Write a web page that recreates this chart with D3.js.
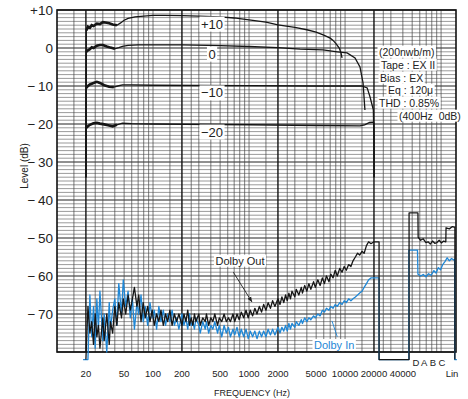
<!DOCTYPE html>
<html>
<head>
<meta charset="utf-8">
<script src="https://cdn.jsdelivr.net/npm/d3@7"></script>
<style>
  body { margin: 0; background: #fff; }
  svg { display: block; font-family: "Liberation Sans", Arial, sans-serif; }
</style>
</head>
<body>
<svg id="chart" width="468" height="399"></svg>
<script>
// level ticks (dB) and frequency tick labels
const levelTicks = [10, 0, -10, -20, -30, -40, -50, -60, -70];
const freqTicks = [20, 50, 100, 200, 500, 1000, 2000, 5000, 10000, 20000, 40000];
const weightNames = ['D', 'A', 'B', 'C', 'Lin'];
const weightPos = [2.95, 4.8, 6.8, 8.8, 11.1];

// frequency response at four recording levels: [Hz, dB]
const curvePlus10 = [[20,-34],[20.2,4.6],[21,5.6],[22,5.3],[23,6.0],[24,5.8],[26,6.4],[28,6.3],[30,6.8],[32,6.7],[35,6.5],[38,6.2],[42,6.0],[46,6.6],[50,7.3],[55,7.8],[65,8.2],[80,8.4],[100,8.6],[130,8.6],[200,8.5],[300,8.4],[500,8.2],[700,7.9],[1000,7.4],[1500,6.8],[2000,6.1],[3000,5.4],[4000,4.8],[5000,4.2],[6000,3.4],[7000,2.6],[7500,2.0],[8000,1.2],[8700,0],[9100,-1.4],[9300,-2.6]];
const curveZero = [[20,-34],[20.2,-1.0],[21,-0.6],[22,-0.3],[23,0.2],[24,0],[26,0.6],[28,0.8],[30,0.8],[33,0.4],[36,0.1],[40,-0.2],[44,0.1],[48,0.4],[55,0.7],[70,0.8],[100,0.8],[200,0.8],[500,0.6],[1000,0.4],[2000,0.1],[3400,-0.3],[5900,-0.5],[8300,-1.0],[10500,-1.3],[12700,-2.6],[14300,-5.0],[15400,-9.2],[16100,-16.3]];
const curveMinus10 = [[20,-34],[20.2,-10.5],[21,-10.0],[22,-9.6],[24,-9.2],[26,-8.9],[28,-9.2],[31,-9.8],[35,-10.2],[39,-10.3],[43,-10.0],[48,-9.7],[60,-9.7],[100,-9.8],[1000,-9.9],[5000,-10.0],[14900,-10.0],[17000,-10.5],[18200,-12.9],[19700,-16.3],[20000,-24],[20000,-34]];
const curveMinus20 = [[20,-34],[20.2,-21.0],[21,-20.6],[22,-20.2],[24,-19.8],[26,-19.7],[28,-19.9],[31,-20.1],[35,-20.4],[38,-20.6],[42,-20.2],[48,-19.8],[60,-19.9],[100,-20.0],[1000,-20.2],[5000,-20.4],[14300,-20.5],[16000,-20.2],[18000,-19.6],[19700,-19.5],[20000,-19.8],[20100,-34]];
const curveNames = ['+10', '0', '\u221210', '\u221220'];
const curveNameDb = [6.3, -1.6, -11.8, -22.1];

// noise spectra, Dolby out / Dolby in
const noiseFreq = [20,21,22,23,24,25,26,27,28,30,31,33,35,36,38,40,42,44,47,49,52,55,58,61,64,68,71,75,79,83,88,93,98,103,109,115,121,128,135,142,150,158,167,176,186,
  200,210,220,230,240,250,260,270,280,300,310,330,350,360,380,400,420,440,470,490,520,550,580,610,640,680,710,750,790,830,880,930,980,1030,1090,1150,1210,1280,1350,1420,1500,1580,1670,1760,1860,
  2000,2100,2200,2300,2400,2500,2600,2700,2800,3000,3100,3300,3500,3600,3800,4000,4200,4400,4700,4900,5200,5500,5800,6100,6400,6800,7100,7500,7900,8300,8800,9300,9800,10300,10900,11500,12100,12800,13500,14200,15000,15800,16700,17600,18600,
  20000];
const dolbyOut = [-82,-68,-75,-72,-78,-70,-76,-73,-79,-71,-77,-70,-78,-72,-75,-68,-73,-67,-71,-66,-70,-65,-69,-66,-63,-68,-65,-72,-67,-71,-68,-72,-69,-73,-70,-72,-69,-73,-70,-72,-69,-73,-70,-72,-70,
  -73,-70,-72,-69,-73,-71,-73,-70,-72,-70,-73,-71,-72,-70,-73,-71,-72,-70,-73,-71,-72,-70,-72,-71,-72,-70,-72,-70,-71.5,-69.5,-71,-69,-71,-69,-70.5,-68.5,-70,-68,-69.5,-67.5,-69,-67,-68.5,-66.5,-68,
  -66,-67.5,-65.5,-67,-65,-66.5,-64.5,-66,-64,-65.5,-63.5,-65,-63,-64.5,-62.5,-64,-62,-63.5,-61.5,-63,-61,-62.5,-60.5,-62,-60,-61.5,-59.5,-60.5,-58.5,-60,-58,-59,-57.5,-58.5,-57,-57.5,-56,-55,-54,-54.5,-53.5,-54,-52,-51,-51.5,
  -51];
const dolbyIn = [-82,-82,-65,-76,-68,-79,-66,-74,-64,-77,-70,-80,-67,-74,-69,-66,-73,-62,-70,-61,-68,-64,-71,-66,-74,-67,-70,-65,-72,-68,-73,-67,-71,-69,-74,-68,-72,-69,-73,-70,-72,-69,-73,-71,-74,
  -70,-73,-71,-74,-70,-73,-72,-74,-71,-73,-75,-72,-74,-72,-75,-73,-74,-72,-75,-73,-76,-73,-75,-73.5,-76,-74,-75.5,-73.5,-76,-74,-76,-74,-76.5,-74.5,-76,-74.5,-76.5,-74.5,-76,-74.5,-76,-74,-75.5,-74,-75.5,
  -73.5,-75,-73.5,-74.5,-73,-74.5,-72.5,-74,-72.5,-73.5,-72,-73,-71.5,-72.5,-71,-72,-71,-71.5,-70.5,-71,-70,-70.5,-69,-69.5,-68.5,-69,-68,-68.5,-67.5,-68,-67,-67.5,-66.5,-67,-66,-66.5,-66,-65.5,-65,-64.5,-64,-63,-62,-61,-60.5,
  -60.5];
const tailFreq = [22600, 22600, 40000];
const dolbyOutTail = [-51, -82, -82];
const dolbyInTail = [-60.5, -82, -82];

// weighted section (strip units 0..12)
const outStripPos = [0, 1.4, 1.4, 3.4, 3.45, 4.0, 4.6, 5.2, 5.7, 6.2, 6.7, 7.2, 7.7, 8.2, 8.7, 9.2, 9.7, 9.75, 10.5, 11.2, 11.75, 11.75];
const outStripDb = [-82, -82, -43.4, -43.4, -49.8, -50.6, -50.2, -51.2, -51, -51.6, -50.8, -51.4, -51.2, -50.6, -51.3, -50.8, -51, -47.3, -47.6, -47, -47.2, -82];
const inStripPos = [0, 1.35, 1.35, 3.3, 3.4, 4.0, 4.6, 5.2, 5.8, 6.4, 7.0, 7.5, 8.0, 8.5, 9.0, 9.5, 10.0, 10.5, 11.0, 11.5, 11.7, 11.7, 12.2];
const inStripDb = [-82, -82, -53.2, -53.2, -59.5, -60, -59.6, -60.2, -59.4, -59.8, -58.6, -59.2, -57.8, -58.4, -57, -56.2, -55.2, -56, -55.4, -55.8, -55.6, -82, -82];

const infoLines = ['(200nwb/m)', 'Tape : EX II', 'Bias : EX', 'Eq : 120\u03bc', 'THD : 0.85%', '(400Hz  0dB)'];

const black = '#161616', blue = '#1f87d6';
const svg = d3.select('#chart');
const x = d3.scaleLog().domain([10, 143000]).range([57, 456]);
const y = d3.scaleLinear().domain([-80, 10]).range([352, 10]);
const xs = d3.scaleLinear().domain([0, 12]).range([x(40000), 456]);

// grid
const grid = svg.append('g');
grid.selectAll('line.h').data(d3.range(-80, 11)).enter().append('line')
  .attr('x1', 57).attr('x2', 456)
  .attr('y1', d => y(d)).attr('y2', d => y(d))
  .attr('stroke', d => d % 10 === 0 ? '#222' : '#555')
  .attr('stroke-width', d => d % 10 === 0 ? 1.1 : 0.6);
const gridFreq = [];
[10, 100, 1000, 10000, 100000].forEach(dec => [1, 1.5, 2, 2.5, 3, 4, 5, 6, 7, 8, 9].forEach(m => {
  const f = dec * m;
  if (f > 10 && f < 142000) gridFreq.push(f);
}));
const major = [20, 200, 2000, 20000];
grid.selectAll('line.v').data(gridFreq).enter().append('line')
  .attr('x1', d => x(d)).attr('x2', d => x(d))
  .attr('y1', 10).attr('y2', 352)
  .attr('stroke', d => major.includes(d) ? '#111' : '#444')
  .attr('stroke-width', d => major.includes(d) ? 1.4 : 0.7);
svg.append('rect').attr('x', 57).attr('y', 10).attr('width', 399).attr('height', 342)
  .attr('fill', 'none').attr('stroke', '#111').attr('stroke-width', 1.6);

// axes labels
svg.selectAll('text.yl').data(levelTicks).enter().append('text')
  .attr('x', 53).attr('y', d => y(d)).attr('dy', '0.36em')
  .attr('text-anchor', 'end').attr('font-size', 13.5).attr('fill', '#222')
  .text(d => d > 0 ? '+' + d : d < 0 ? '\u2212\u2009' + Math.abs(d) : '0');
svg.selectAll('text.xl').data(freqTicks).enter().append('text')
  .attr('x', d => x(d)).attr('y', 377)
  .attr('text-anchor', 'middle').attr('font-size', 9.5).attr('fill', '#222')
  .text(d => d);
svg.selectAll('text.wl').data(weightNames).enter().append('text')
  .attr('x', (d, i) => xs(weightPos[i])).attr('y', (d, i) => d === 'Lin' ? 377 : 366)
  .attr('text-anchor', 'middle').attr('font-size', 9.5).attr('fill', '#222')
  .text(d => d);
svg.append('text').attr('x', 252).attr('y', 396).attr('text-anchor', 'middle')
  .attr('font-size', 9).attr('fill', '#222').text('FREQUENCY (Hz)');
svg.append('text').attr('transform', 'translate(28,166) rotate(-90)').attr('text-anchor', 'middle')
  .attr('font-size', 10).attr('fill', '#222').text('Level (dB)');

// text with white box behind
function boxedText(g, tx, ty, str, opts) {
  const t = g.append('text').attr('x', tx).attr('y', ty).attr('dy', '0.35em')
    .attr('text-anchor', opts.anchor || 'start').attr('font-size', opts.size)
    .attr('fill', opts.color || '#222').attr('xml:space', 'preserve').text(str);
  const b = t.node().getBBox();
  g.insert('rect', () => t.node()).attr('x', b.x - 1.5).attr('y', b.y).attr('width', b.width + 3)
    .attr('height', b.height).attr('fill', '#fff');
}

const line = d3.line().x(d => x(d[0])).y(d => y(d[1]));
const curves = [curvePlus10, curveZero, curveMinus10, curveMinus20];
const cg = svg.append('g');
curves.forEach(c => {
  cg.append('path').attr('d', line(c)).attr('fill', 'none').attr('stroke', black).attr('stroke-width', 1.3);
  cg.append('path').attr('d', line(c.filter(p => p[0] > 20.1 && p[0] <= 42)))
    .attr('fill', 'none').attr('stroke', black).attr('stroke-width', 2.6);
});
const lab = svg.append('g');
curveNames.forEach((n, i) => boxedText(lab, x(412), y(curveNameDb[i]), n, { anchor: 'middle', size: 13 }));

// noise traces
function trace(vals, tail, sPos, sDb, lead) {
  const pts = lead.slice();
  noiseFreq.forEach((f, i) => pts.push([x(f), y(vals[i])]));
  tailFreq.forEach((f, i) => pts.push([x(f), y(tail[i])]));
  sPos.forEach((p, i) => pts.push([xs(p), y(sDb[i])]));
  return d3.line()(pts);
}
svg.append('path').attr('d', trace(dolbyIn, dolbyInTail, inStripPos, inStripDb, [[x(18.7), y(-82)]]))
  .attr('fill', 'none').attr('stroke', blue).attr('stroke-width', 1.3).attr('stroke-linejoin', 'round');
svg.append('path').attr('d', trace(dolbyOut, dolbyOutTail, outStripPos, outStripDb, []))
  .attr('fill', 'none').attr('stroke', black).attr('stroke-width', 1.3).attr('stroke-linejoin', 'round');

// annotations
svg.append('defs').append('marker').attr('id', 'ah').attr('viewBox', '0 0 10 10')
  .attr('refX', 9).attr('refY', 5).attr('markerWidth', 6).attr('markerHeight', 6).attr('orient', 'auto')
  .append('path').attr('d', 'M0,1L10,5L0,9z').attr('fill', '#222');
const ann = svg.append('g');
boxedText(ann, x(805), y(-56), 'Dolby Out', { anchor: 'middle', size: 11 });
ann.append('line').attr('x1', x(686)).attr('y1', y(-59)).attr('x2', x(1070)).attr('y2', y(-66.8))
  .attr('stroke', '#222').attr('stroke-width', 0.9).attr('marker-end', 'url(#ah)');
boxedText(ann, x(7700), y(-78.2), 'Dolby In', { anchor: 'middle', size: 11, color: blue });
ann.append('line').attr('x1', x(8300)).attr('y1', y(-76)).attr('x2', x(7300)).attr('y2', y(-71.8))
  .attr('stroke', blue).attr('stroke-width', 0.9);

const info = svg.append('g');
const infoX = [379, 381, 380, 388, 379, 399];
const infoY = [52, 65, 78, 90, 103, 116];
infoLines.forEach((s, i) => boxedText(info, infoX[i], infoY[i], s, { size: 10.5 }));
</script>
</body>
</html>
